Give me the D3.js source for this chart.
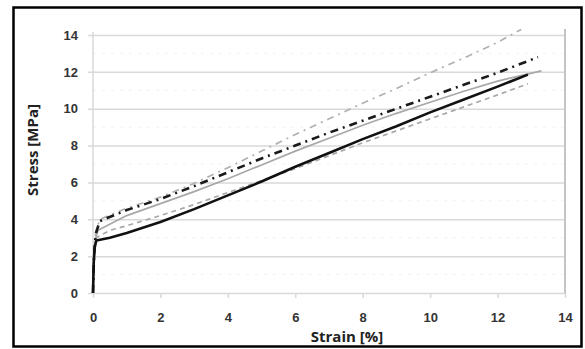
<!DOCTYPE html>
<html>
<head>
<meta charset="utf-8">
<script src="https://cdn.jsdelivr.net/npm/d3@7"></script>
<style>
  body { margin: 0; background: #fff; }
  svg { display: block; font-family: "Open Sans", sans-serif; }
</style>
</head>
<body>
<svg id="chart" width="585" height="349"></svg>
<script>
// tick values
const xTicks = [0, 2, 4, 6, 8, 10, 12, 14];
const yTicks = [0, 2, 4, 6, 8, 10, 12, 14];
const yMinor = [1, 3, 5, 7, 9, 11, 13];

// strain [%] / stress [MPa]
const blackSolid = [[0,0],[0.02,1.6],[0.05,2.5],[0.1,2.85],[0.5,3.0],[1,3.25],[2,3.85],[3,4.55],[4,5.3],[5,6.05],[6,6.85],[7,7.6],[8,8.35],[9,9.05],[10,9.8],[11,10.5],[12,11.2],[12.9,11.85]];
const blackDashDot = [[0,0],[0.03,2],[0.08,3.2],[0.2,3.9],[1,4.5],[2,5.1],[3,5.8],[4,6.55],[5,7.3],[6,8.0],[7,8.7],[8,9.35],[9,10.0],[10,10.65],[11,11.3],[12,11.95],[13.2,12.8]];
const greyDashDot = [[0,0],[0.03,2],[0.08,3.3],[0.2,4.0],[1,4.6],[2,5.2],[3,5.95],[4,6.8],[5,7.7],[6,8.6],[7,9.45],[8,10.3],[9,11.1],[10,11.95],[11,12.75],[12,13.6],[12.7,14.3]];
const greySolid = [[0,0],[0.03,2],[0.08,3.0],[0.15,3.4],[1,4.2],[2,4.85],[3,5.5],[4,6.2],[5,6.95],[6,7.7],[7,8.4],[8,9.1],[9,9.75],[10,10.35],[11,10.95],[12,11.5],[13.3,12.05]];
const greyDashed = [[0,0],[0.03,1.8],[0.1,3.0],[0.5,3.4],[1,3.65],[2,4.2],[3,4.8],[4,5.45],[5,6.1],[6,6.75],[7,7.45],[8,8.15],[9,8.8],[10,9.45],[11,10.1],[12,10.75],[12.9,11.35]];

const series = [
  { data: greyDashed, color: '#a8a8a8', width: 1.7, dash: '5,4' },
  { data: greySolid, color: '#a8a8a8', width: 1.7, dash: null },
  { data: greyDashDot, color: '#b0b0b0', width: 1.7, dash: '7,5,2,5' },
  { data: blackDashDot, color: '#1a1a1a', width: 2.6, dash: '8,5,2,5' },
  { data: blackSolid, color: '#111', width: 2.6, dash: null }
];

const svg = d3.select('#chart');
const x = d3.scaleLinear().domain([0, 14]).range([93, 565]);
const y = d3.scaleLinear().domain([0, 14]).range([293, 35]);

// outer frame
svg.append('rect')
  .attr('x', 13.5).attr('y', 7.5).attr('width', 568).attr('height', 339)
  .attr('fill', 'none').attr('stroke', '#000').attr('stroke-width', 2.5);

// minor dotted gridlines
svg.append('g').selectAll('line')
  .data(yMinor).enter().append('line')
  .attr('x1', x(0)).attr('x2', x(14))
  .attr('y1', d => y(d)).attr('y2', d => y(d))
  .attr('stroke', '#f2f2f2').attr('stroke-width', 1)
  .attr('stroke-dasharray', '3,6');

// y axis with gridlines
const yAxis = svg.append('g')
  .attr('transform', 'translate(' + x(14) + ',0)')
  .call(d3.axisLeft(y).tickValues(yTicks).tickSize(x(14) - x(0) + 5).tickPadding(10));
yAxis.select('.domain').remove();
yAxis.selectAll('line').attr('stroke', '#d9d9d9').attr('stroke-width', 1.5);
yAxis.selectAll('text')
  .attr('fill', '#333').style('font-size', '13px').style('font-weight', 'bold');

// x axis
const xAxis = svg.append('g')
  .attr('transform', 'translate(0,' + y(0) + ')')
  .call(d3.axisBottom(x).tickValues(xTicks).tickSize(5).tickPadding(15));
xAxis.select('.domain').remove();
xAxis.selectAll('line').attr('stroke', '#d9d9d9').attr('stroke-width', 1.5);
xAxis.selectAll('text')
  .attr('fill', '#333').style('font-size', '13px').style('font-weight', 'bold');

// left and right borders of plot area
svg.append('line')
  .attr('x1', x(0)).attr('x2', x(0)).attr('y1', y(14) - 3).attr('y2', y(0))
  .attr('stroke', '#d9d9d9').attr('stroke-width', 1.5);
svg.append('line')
  .attr('x1', x(14)).attr('x2', x(14)).attr('y1', y(14) - 6).attr('y2', y(0))
  .attr('stroke', '#c4c4c4').attr('stroke-width', 2);

// curves
const line = d3.line().x(d => x(d[0])).y(d => y(d[1]));
svg.append('g').selectAll('path')
  .data(series).enter().append('path')
  .attr('d', d => line(d.data))
  .attr('fill', 'none')
  .attr('stroke', d => d.color)
  .attr('stroke-width', d => d.width)
  .attr('stroke-dasharray', d => d.dash)
  .attr('stroke-linejoin', 'round');

// axis titles
svg.append('text')
  .attr('x', 347).attr('y', 342)
  .attr('text-anchor', 'middle')
  .attr('fill', '#222')
  .style('font-size', '15px').style('font-weight', 'bold')
  .text('Strain [%]');
svg.append('text')
  .attr('transform', 'translate(38,150) rotate(-90)')
  .attr('text-anchor', 'middle')
  .attr('fill', '#222')
  .style('font-size', '15px').style('font-weight', 'bold')
  .text('Stress [MPa]');
</script>
</body>
</html>
